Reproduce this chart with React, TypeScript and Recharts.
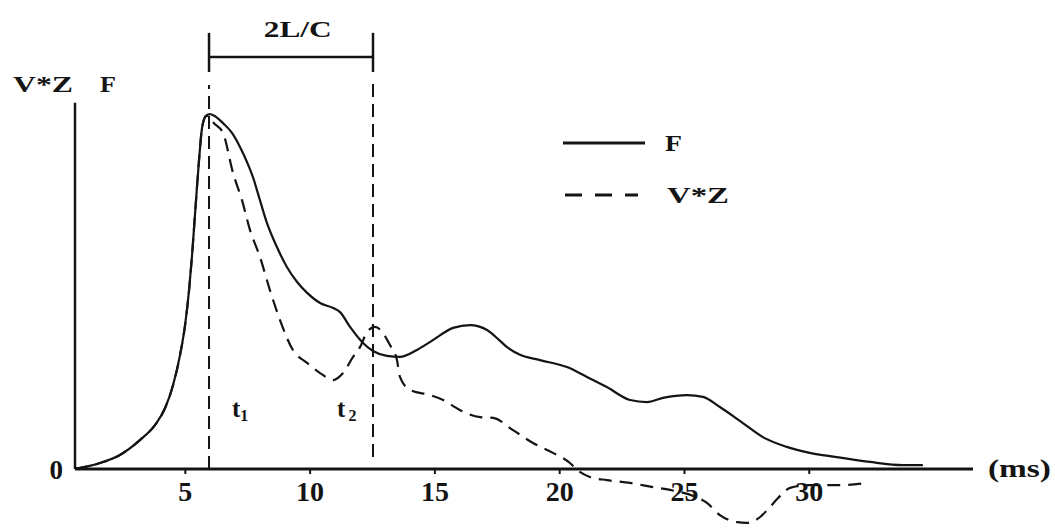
import React from 'react';
import { ComposedChart, Line, XAxis, YAxis, ReferenceLine, ReferenceDot, Legend } from 'recharts';

// F (solid), time in ms
const fTime = [
  0.58, 1.58, 2.38, 3.19, 3.79, 4.19, 4.51, 4.79, 4.99, 5.15, 5.27, 5.43, 5.55, 5.67, 5.83, 5.99,
  6.23, 6.51, 6.87, 7.19, 7.47, 7.71, 7.99, 8.27, 8.67, 9.07, 9.48, 9.88, 10.4, 10.92, 11.2,
  11.6, 12.12, 12.52, 13.08, 13.6, 14.28, 14.92, 15.73, 16.41, 17.09, 17.61, 17.89, 18.41,
  19.21, 20.29, 21.09, 21.89, 22.82, 23.5, 24.14, 25.1, 25.74, 26.42, 27.34, 28.14, 29.1,
  30.02, 31.1, 32.43, 33.75, 34.55,
];
const fValue = [
  0, 1.7, 4.0, 8.3, 12.6, 17.4, 24.0, 32.6, 41.1, 51.1, 61.1, 76.9, 88.3, 97.4, 100.9, 101.4,
  100.6, 98.8, 96.0, 92.0, 87.7, 83.4, 76.8, 70.3, 63.4, 57.7, 53.4, 50.3, 47.4, 46.0, 44.8,
  40.6, 36.0, 33.7, 32.3, 32.0, 34.0, 36.8, 40.3, 41.1, 39.7, 36.6, 34.8, 32.6,
  31.1, 29.1, 26.3, 23.4, 19.7, 19.1, 20.3, 21.1, 20.6, 17.7, 13.1, 9.1, 6.3,
  4.6, 3.4, 2.0, 1.1, 1.1,
];

// V*Z (dashed)
const vzTime = [
  0.58, 1.58, 2.38, 3.19, 3.79, 4.19, 4.51, 4.79, 4.99, 5.15, 5.27, 5.43, 5.55, 5.67, 5.83, 5.95,
  6.11, 6.51, 6.91, 7.27, 7.59, 7.99, 8.39, 8.79, 9.31, 9.88, 10.4, 10.92, 11.32, 11.72, 12.0,
  12.28, 12.6, 12.92, 13.2, 13.48, 13.6, 14.0, 14.8, 15.33, 16.01, 16.81, 17.33, 18.13, 18.93,
  19.73, 20.41, 20.7, 21.21, 21.89, 22.82, 23.74, 24.42, 25.42, 25.9, 26.42, 27.11, 27.5,
  28.02, 28.42, 28.75, 29.23, 30.02, 31.23, 32.31,
];
const vzValue = [
  0, 1.7, 4.0, 8.3, 12.6, 17.4, 24.0, 32.6, 41.1, 51.1, 61.1, 76.9, 88.3, 97.4, 100.9, 100.8,
  99.1, 96.0, 84.6, 76.8, 68.3, 60.6, 51.1, 42.6, 34.0, 30.3, 27.4, 25.4, 27.4, 32.0, 34.8,
  39.1, 40.6, 38.8, 35.4, 31.1, 26.3, 22.6, 21.1, 19.7, 16.8, 14.8, 14.6, 11.1, 7.4,
  4.6, 1.7, -0.3, -2.3, -3.2, -4.0, -5.2, -6.0, -7.9, -9.7, -13.2, -15.2, -15.4,
  -13.8, -10.9, -8.3, -5.4, -4.6, -4.6, -4.0,
];

const timeTicks = [5, 10, 15, 20, 25, 30];
const xDomain = [0.58, 36.56];
const yDomain = [-16.3, 127.7];

// 2L/C markers
const t1 = 5.95;
const t2 = 12.52;

const fData = fTime.map((t, i) => ({ t, v: fValue[i] }));
const vzData = vzTime.map((t, i) => ({ t, v: vzValue[i] }));

const INK = '#141414';
const SERIF = 'Liberation Serif, Times New Roman, serif';

const TimeTick = (props: any) => {
  const { x, y, payload } = props;
  return (
    <g>
      <line x1={x} x2={x} y1={y - 57} y2={y - 52} stroke={INK} strokeWidth={2} />
      <text x={x} y={y - 25} textAnchor="middle" fontFamily={SERIF} fontWeight="bold" fontSize={28} fill={INK}>
        {payload.value}
      </text>
    </g>
  );
};

const ZeroTick = (props: any) => {
  const { x, y, payload } = props;
  return (
    <text x={x} y={y + 10} textAnchor="end" fontFamily={SERIF} fontWeight="bold" fontSize={27} fill={INK}>
      {payload.value}
    </text>
  );
};

// label content helper, placed at a data point
const note = (draw: (x: number, y: number) => React.ReactNode) => (props: any) => {
  const vb = props.viewBox || {};
  return <g>{draw(vb.x, vb.y)}</g>;
};

const txt = { fontFamily: SERIF, fontWeight: 'bold' as const, fill: INK };

const LegendBox = ({ payload }: any) => (
  <svg width={200} height={90}>
    {(payload || []).map((p: any, i: number) => {
      const dashed = p.value === 'V*Z';
      return (
        <g key={p.value} transform={`translate(0, ${18 + i * 52})`}>
          <line
            x1={dashed ? 10 : 8}
            x2={dashed ? 83 : 90}
            y1={0}
            y2={0}
            stroke={INK}
            strokeWidth={3}
            strokeDasharray={dashed ? '17 13' : undefined}
          />
          <text x={dashed ? 112 : 110} y={8} fontSize={23} {...txt} textLength={dashed ? 62 : 17} lengthAdjust="spacingAndGlyphs">
            {p.value}
          </text>
        </g>
      );
    })}
  </svg>
);

export default function App() {
  return (
    <div style={{ position: 'absolute', left: 0, top: 0, width: 1055, height: 528, background: '#fff' }}>
      <ComposedChart width={1055} height={528} margin={{ top: 22, right: 82, bottom: 0, left: 55 }}>
        <XAxis
          type="number"
          dataKey="t"
          domain={xDomain}
          ticks={timeTicks}
          interval={0}
          height={2}
          axisLine={false}
          tickLine={false}
          tickSize={0}
          tickMargin={0}
          tick={TimeTick}
          allowDataOverflow
        />
        <YAxis
          type="number"
          domain={yDomain}
          ticks={[0]}
          width={20}
          axisLine={false}
          tickLine={false}
          tickSize={0}
          tickMargin={12}
          tick={ZeroTick}
          allowDataOverflow
        />

        {/* axes drawn through the origin */}
        <ReferenceLine y={0} stroke={INK} strokeWidth={3} />
        <ReferenceLine segment={[{ x: xDomain[0], y: 0 }, { x: xDomain[0], y: 104.6 }]} stroke={INK} strokeWidth={2.5} />

        {/* 2L/C bracket */}
        <ReferenceLine segment={[{ x: t1, y: 117.7 }, { x: t2, y: 117.7 }]} stroke={INK} strokeWidth={2.5} />
        <ReferenceLine segment={[{ x: t1, y: 113.4 }, { x: t1, y: 124.6 }]} stroke={INK} strokeWidth={2.5} />
        <ReferenceLine segment={[{ x: t2, y: 113.4 }, { x: t2, y: 124.6 }]} stroke={INK} strokeWidth={2.5} />
        <ReferenceLine segment={[{ x: t1, y: 0 }, { x: t1, y: 109.7 }]} stroke={INK} strokeWidth={2} strokeDasharray="13 7" />
        <ReferenceLine segment={[{ x: t2, y: 3.4 }, { x: t2, y: 111.7 }]} stroke={INK} strokeWidth={2} strokeDasharray="13 7" />

        <Line
          data={fData}
          dataKey="v"
          name="F"
          type="monotone"
          stroke={INK}
          strokeWidth={2.2}
          dot={false}
          activeDot={false}
          isAnimationActive={false}
        />
        <Line
          data={vzData}
          dataKey="v"
          name="V*Z"
          type="monotone"
          stroke={INK}
          strokeWidth={2.2}
          strokeDasharray="13 8"
          dot={false}
          activeDot={false}
          isAnimationActive={false}
        />

        {/* text annotations */}
        <ReferenceDot
          x={xDomain[0]}
          y={107.7}
          r={0}
          ifOverflow="visible"
          label={note((x, y) => (
            <>
              <text x={x - 62} y={y} fontSize={23} {...txt} textLength={60} lengthAdjust="spacingAndGlyphs">V*Z</text>
              <text x={x + 25} y={y} fontSize={23} {...txt} textLength={16} lengthAdjust="spacingAndGlyphs">F</text>
            </>
          ))}
        />
        <ReferenceDot
          x={(t1 + t2) / 2 + 0.27}
          y={123.4}
          r={0}
          ifOverflow="visible"
          label={note((x, y) => (
            <text x={x} y={y} textAnchor="middle" fontSize={23} {...txt} textLength={68} lengthAdjust="spacingAndGlyphs">2L/C</text>
          ))}
        />
        <ReferenceDot
          x={6.87}
          y={14.9}
          r={0}
          label={note((x, y) => (
            <text x={x} y={y} fontSize={25} {...txt}>
              t<tspan fontSize={16} dy={4}>1</tspan>
            </text>
          ))}
        />
        <ReferenceDot
          x={11.08}
          y={14.9}
          r={0}
          label={note((x, y) => (
            <text x={x} y={y} fontSize={25} {...txt}>
              t<tspan fontSize={16} dx={3} dy={4}>2</tspan>
            </text>
          ))}
        />
        <ReferenceDot
          x={38.42}
          y={-2.3}
          r={0}
          ifOverflow="visible"
          label={note((x, y) => (
            <text x={x} y={y} textAnchor="middle" fontSize={25} {...txt} textLength={63} lengthAdjust="spacingAndGlyphs">(ms)</text>
          ))}
        />

        <Legend
          layout="vertical"
          align="center"
          verticalAlign="middle"
          wrapperStyle={{ left: 555, top: 125, width: 200 }}
          content={LegendBox}
        />
      </ComposedChart>
    </div>
  );
}
